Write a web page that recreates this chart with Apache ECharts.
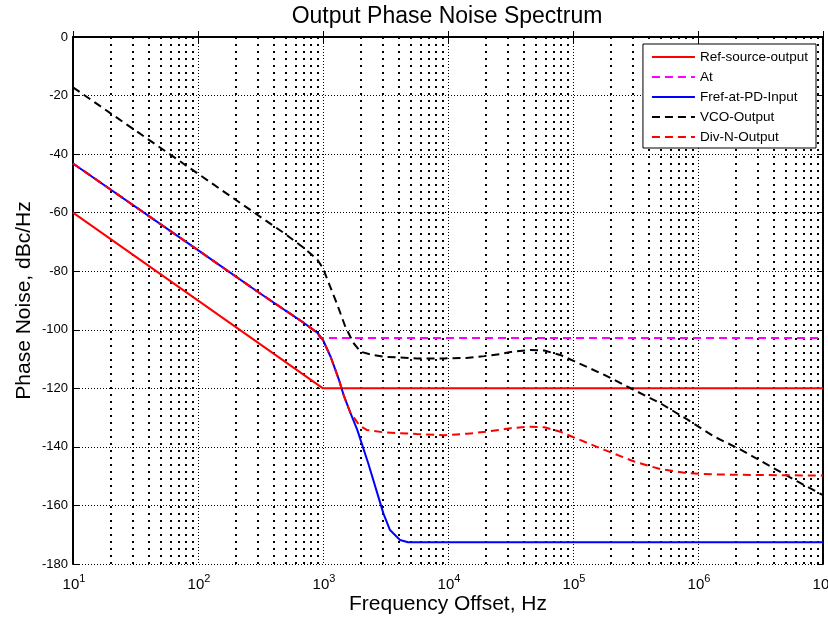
<!DOCTYPE html>
<html>
<head>
<meta charset="utf-8">
<script src="https://cdn.jsdelivr.net/npm/echarts@6/dist/echarts.min.js"></script>
<style>
  html, body { margin: 0; padding: 0; background: #fff; }
  #chart { width: 828px; height: 617px; }
</style>
</head>
<body>
<div id="chart"></div>
<script>
// values (frequency in Hz, noise in dBc/Hz)
const seriesNames = ['Ref-source-output', 'At', 'Fref-at-PD-Input', 'VCO-Output', 'Div-N-Output'];

const refFreq = [10, 1000, 1e7];
const refNoise = [-60, -120, -120];

const atFreq = [10, 100, 300, 500, 700, 900, 950, 1e7];
const atNoise = [-43.2, -72.8, -87, -93.4, -97.6, -101, -102.8, -102.8];

const frefFreq = [10, 100, 300, 500, 700, 900, 1000, 1150, 1340, 1470, 1660, 1880, 2300, 2770, 3040, 3435, 4130, 4800, 1e7];
const frefNoise = [-43.2, -72.8, -87, -93.4, -97.6, -101, -103.5, -109.2, -117, -122.6, -128.5, -134.2, -145.6, -157, -162.7, -168.4, -171.8, -172.6, -172.6];

const vcoFreq = [10, 100, 300, 500, 700, 900, 1000, 1110, 1290, 1510, 1760, 2000, 2500, 3070, 5680, 9270, 14000, 19500, 26300, 31600, 45700, 59000, 79000, 102000, 178000, 309000, 500000, 832000, 1350000, 2210000, 3850000, 6300000, 1e7];
const vcoNoise = [-17.2, -46.7, -60.8, -67.3, -72, -76, -79, -84, -91, -99, -104.6, -107.5, -108.6, -109.2, -109.8, -109.8, -109.6, -109, -108.3, -107.6, -106.9, -107.1, -108.6, -110.7, -115.4, -120.6, -125.1, -130.8, -136.5, -141, -146.8, -151.9, -156.5];

const divFreq = [10, 100, 300, 500, 700, 900, 1000, 1150, 1340, 1470, 1660, 1760, 1880, 2000, 2240, 3020, 5600, 9300, 14300, 20600, 31600, 45700, 59000, 79000, 102000, 178000, 309000, 500000, 832000, 1350000, 2800000, 1e7];
const divNoise = [-43.2, -72.8, -87, -93.4, -97.6, -101, -103.5, -109.2, -117, -122.6, -128.5, -129.9, -131.6, -133, -134.2, -135, -135.6, -136, -135.5, -134.8, -133.6, -133.1, -133.3, -134.8, -136.8, -141, -145, -147.6, -149, -149.4, -149.6, -149.8];

// minor log grid positions (2..9 in each decade)
const decadeStarts = [10, 100, 1e3, 1e4, 1e5, 1e6];
const minorTicks = [];
decadeStarts.forEach(d => { for (let k = 2; k <= 9; k++) minorTicks.push(d * k); });

const font = 'Liberation Sans, Arial, sans-serif';
const pairs = (xs, ys) => xs.map((x, i) => [x, ys[i]]);
const dash = [8, 5];

const chart = echarts.init(document.getElementById('chart'));

const curve = (name, xs, ys, color, type) => ({
    name: name,
    type: 'line',
    data: pairs(xs, ys),
    symbol: 'none',
    showSymbol: false,
    z: 10,
    silent: true,
    itemStyle: { color: color },
    lineStyle: { color: color, width: 2, type: type }
});

const boxAxisLine = { show: true, lineStyle: { color: '#000', width: 2 } };
const tick = { show: true, inside: true, length: 6, lineStyle: { color: '#000', width: 1 } };
const dotted = { color: '#000', width: 1, type: [1, 2] };

const option = {
    animation: false,
    textStyle: { fontFamily: font },
    title: {
        text: 'Output Phase Noise Spectrum',
        left: 447,
        top: 5,
        textAlign: 'center',
        padding: 0,
        textStyle: { fontSize: 23, fontWeight: 'normal', color: '#000', fontFamily: font }
    },
    legend: {
        data: seriesNames,
        orient: 'vertical',
        right: 12,
        top: 44,
        z: 20,
        itemWidth: 43,
        itemHeight: 14,
        itemGap: 6,
        padding: [6, 8, 4, 8],
        borderColor: '#000',
        borderWidth: 1,
        borderRadius: 0,
        backgroundColor: '#fff',
        itemStyle: { opacity: 0 },
        textStyle: { fontSize: 13.5, color: '#000', fontFamily: font }
    },
    grid: { left: 73, top: 37, right: 5, bottom: 53, outerBoundsMode: 'none' },
    xAxis: [
        {
            type: 'log',
            logBase: 10,
            min: 10,
            max: 1e7,
            name: 'Frequency Offset, Hz',
            nameLocation: 'middle',
            nameGap: 30,
            nameMoveOverlap: false,
            nameTextStyle: { fontSize: 21, color: '#000', fontFamily: font },
            axisLine: boxAxisLine,
            axisTick: tick,
            splitLine: { show: true, lineStyle: dotted },
            axisLabel: {
                margin: 9,
                color: '#000',
                hideOverlap: false,
                formatter: v => '{b|10}{s|' + Math.round(Math.log10(v)) + '}',
                rich: {
                    b: { fontSize: 15, lineHeight: 15, padding: [9, 0, 0, 2], color: '#000', fontFamily: font },
                    s: { fontSize: 11, lineHeight: 11, verticalAlign: 'top', color: '#000', fontFamily: font }
                }
            }
        },
        {
            type: 'log',
            logBase: 10,
            min: 10,
            max: 1e7,
            position: 'top',
            axisLine: boxAxisLine,
            axisTick: tick,
            axisLabel: { show: false },
            splitLine: { show: false }
        }
    ],
    yAxis: [
        {
            type: 'value',
            min: -180,
            max: 0,
            interval: 20,
            name: 'Phase Noise, dBc/Hz',
            nameLocation: 'middle',
            nameGap: 38,
            nameMoveOverlap: false,
            nameTextStyle: { fontSize: 21, color: '#000', fontFamily: font },
            axisLine: boxAxisLine,
            axisTick: tick,
            splitLine: { show: true, lineStyle: dotted },
            axisLabel: { fontSize: 13, color: '#000', margin: 5 }
        },
        {
            type: 'value',
            min: -180,
            max: 0,
            interval: 20,
            position: 'right',
            axisLine: boxAxisLine,
            axisTick: tick,
            axisLabel: { show: false },
            splitLine: { show: false }
        }
    ],
    series: [
        {
            type: 'line',
            data: [],
            silent: true,
            markLine: {
                silent: true,
                symbol: ['none', 'none'],
                label: { show: false },
                lineStyle: { color: '#000', width: 2, type: [2, 5] },
                emphasis: { disabled: true },
                data: minorTicks.map(v => ({ xAxis: v }))
            }
        },
        curve(seriesNames[0], refFreq, refNoise, '#ff0000', 'solid'),
        curve(seriesNames[1], atFreq, atNoise, '#ff00ff', dash),
        curve(seriesNames[2], frefFreq, frefNoise, '#0000ff', 'solid'),
        curve(seriesNames[3], vcoFreq, vcoNoise, '#000000', dash),
        curve(seriesNames[4], divFreq, divNoise, '#ff0000', dash)
    ]
};

chart.setOption(option);
</script>
</body>
</html>
